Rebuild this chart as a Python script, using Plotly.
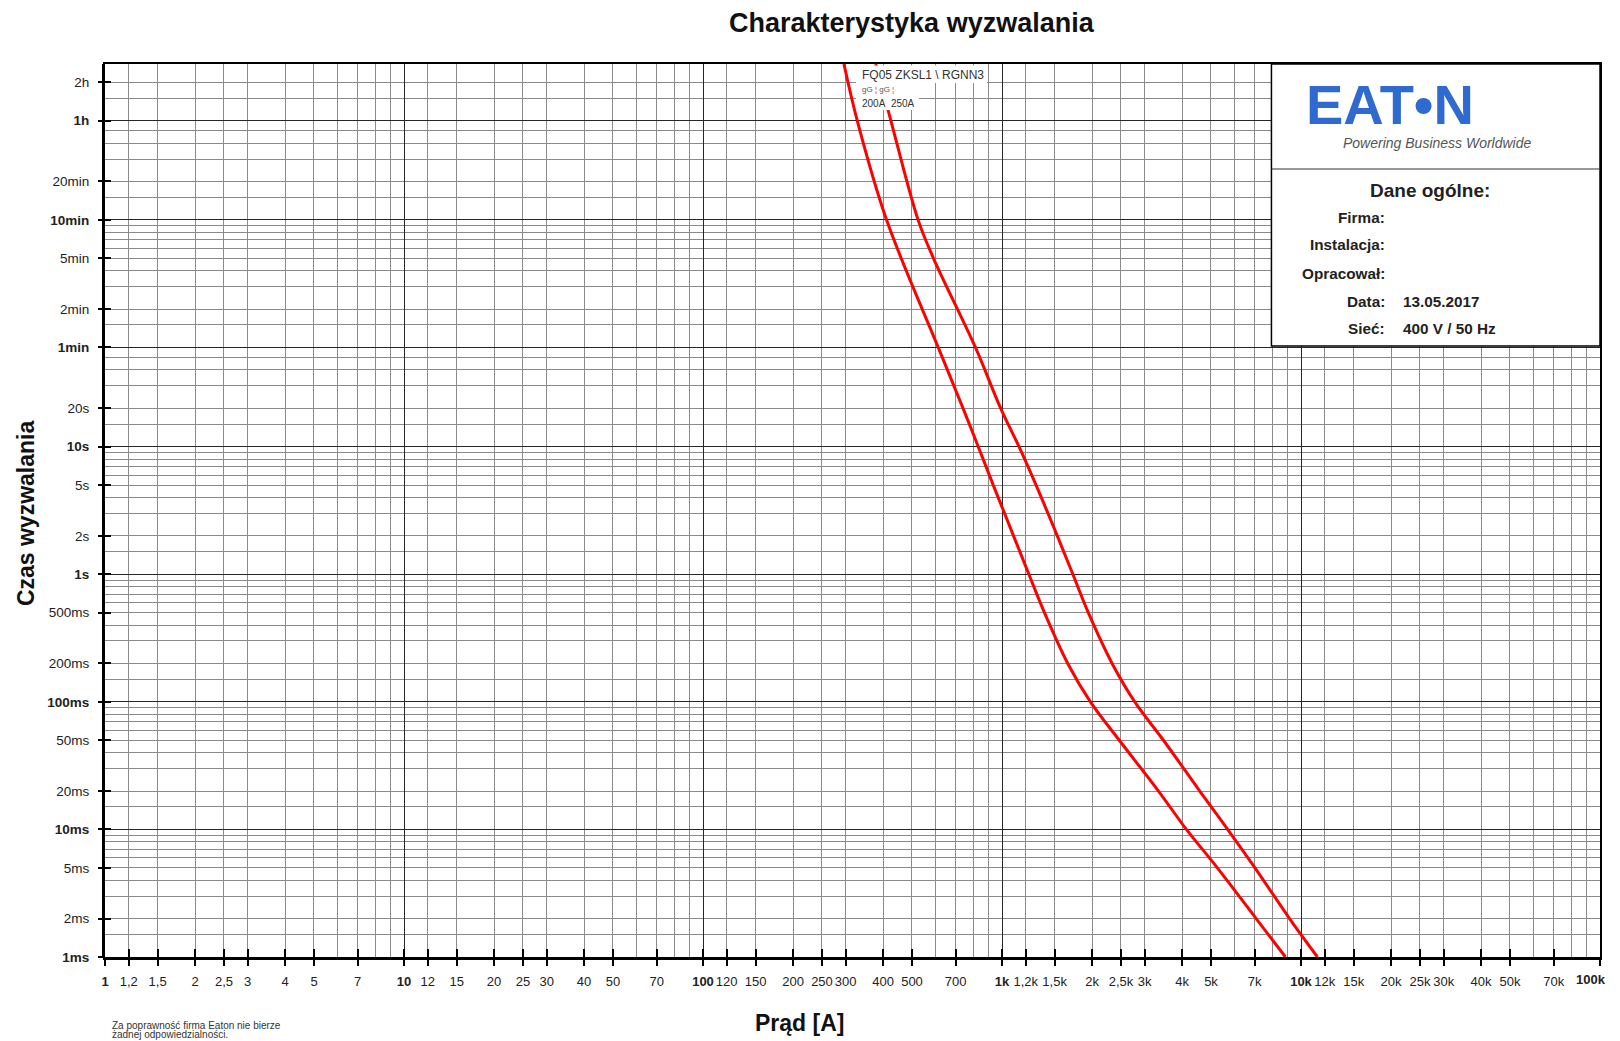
import plotly.graph_objects as go

# ---------------- data ----------------
I_200 = [296, 329, 411, 612, 741, 833, 935, 1093, 1230, 1387, 1659, 1976, 2468, 3337, 4137, 5252, 7080, 8872]
t_200 = [10000, 3500, 600, 60, 20, 10, 5, 2, 1, 0.5, 0.2, 0.1, 0.05, 0.02, 0.01, 0.005, 0.002, 0.001]

I_250 = [378, 420, 524, 590, 815, 990, 1140, 1300, 1531, 1726, 1944, 2335, 2780, 3467, 4585, 5684, 7015, 9155, 11350]
t_250 = [10000, 4000, 600, 300, 60, 20, 10, 5, 2, 1, 0.5, 0.2, 0.1, 0.05, 0.02, 0.01, 0.005, 0.002, 0.001]

# x axis (current, A)
X_TICKS = [1, 1.2, 1.5, 2, 2.5, 3, 4, 5, 7,
           10, 12, 15, 20, 25, 30, 40, 50, 70,
           100, 120, 150, 200, 250, 300, 400, 500, 700,
           1000, 1200, 1500, 2000, 2500, 3000, 4000, 5000, 7000,
           10000, 12000, 15000, 20000, 25000, 30000, 40000, 50000, 70000, 100000]
X_LABELS = ["<b>1</b>", "1,2", "1,5", "2", "2,5", "3", "4", "5", "7",
            "<b>10</b>", "12", "15", "20", "25", "30", "40", "50", "70",
            "<b>100</b>", "120", "150", "200", "250", "300", "400", "500", "700",
            "<b>1k</b>", "1,2k", "1,5k", "2k", "2,5k", "3k", "4k", "5k", "7k",
            "<b>10k</b>", "12k", "15k", "20k", "25k", "30k", "40k", "50k", "70k", "<b>100k</b>"]
X_LAST_LABEL = X_LABELS[-1]          # drawn right-aligned at the page edge so it is not clipped
X_AXIS_LABELS = X_LABELS[:-1] + [""]
X_DECADES = [1, 10, 100, 1000, 10000, 100000]
X_MANTISSA = [1.2, 1.5, 2, 2.5, 3, 4, 5, 6, 7, 8, 9]
X_MINOR = [m * d for d in [1, 10, 100, 1000, 10000] for m in X_MANTISSA]

# y axis (time, s)
Y_TICKS = [7200, 3600, 1200, 600, 300, 120, 60, 20, 10, 5, 2, 1,
           0.5, 0.2, 0.1, 0.05, 0.02, 0.01, 0.005, 0.002, 0.001]
Y_LABELS = ["2h", "<b>1h</b>", "20min", "<b>10min</b>", "5min", "2min", "<b>1min</b>",
            "20s", "<b>10s</b>", "5s", "2s", "<b>1s</b>",
            "500ms", "200ms", "<b>100ms</b>", "50ms", "20ms", "<b>10ms</b>", "5ms", "2ms", "<b>1ms</b>"]
Y_MAJOR = [0.001, 0.01, 0.1, 1, 10, 60, 600, 3600]
Y_MANTISSA = [1.5, 2, 3, 4, 5, 6, 7, 8, 9]
Y_MINOR = ([m * d for d in [0.001, 0.01, 0.1, 1] for m in Y_MANTISSA]
           + [15, 20, 30, 40, 50]
           + [90, 120, 180, 240, 300, 360, 420, 480, 540]
           + [900, 1200, 1800, 2400, 3000]
           + [5400, 7200])

# ---------------- layout geometry ----------------
OFF = 8                      # page body margin
W, H = 1604, 1033
ML, MT = 97, 56
MR = W - (1602 - OFF)
MB = H - 949
PW, PH = W - ML - MR, H - MT - MB
FONT = "Liberation Sans, Arial, sans-serif"


def PX(page_x):
    return (page_x - OFF - ML) / PW


def PY(page_y):
    return (MT + PH - (page_y - OFF)) / PH


fig = go.Figure()
CURVE = dict(color="#ff0000", width=3, shape="spline", smoothing=1.0)
fig.add_trace(go.Scatter(x=I_200, y=t_200, mode="lines", line=CURVE, showlegend=False, hoverinfo="skip"))
fig.add_trace(go.Scatter(x=I_250, y=t_250, mode="lines", line=CURVE, showlegend=False, hoverinfo="skip"))
# invisible anchors so that the overlay axes (labels / tick marks) get drawn
for xa, ya in [("x2", "y"), ("x3", "y"), ("x", "y2"), ("x", "y3")]:
    fig.add_trace(go.Scatter(x=I_200[:1], y=t_200[:1], xaxis=xa, yaxis=ya, mode="markers",
                             marker=dict(opacity=0, size=1), showlegend=False, hoverinfo="skip"))

XR = [0, 5]
YR = [-3, 4]
GRID_MINOR = "#8a8a8a"
GRID_MAJOR = "#262626"

fig.update_layout(
    width=W, height=H, autosize=False,
    margin=dict(l=ML, r=MR, t=MT, b=MB, pad=0),
    paper_bgcolor="white", plot_bgcolor="white",
    font=dict(family=FONT, color="#222"),
    showlegend=False,
    xaxis=dict(type="log", range=XR, autorange=False, tickmode="array", tickvals=X_DECADES,
               showticklabels=False, ticks="", showgrid=True, gridcolor=GRID_MAJOR, gridwidth=1,
               minor=dict(tickmode="array", tickvals=X_MINOR, showgrid=True, gridcolor=GRID_MINOR,
                          gridwidth=1, ticks=""),
               showline=True, mirror=True, linecolor="black", linewidth=2, zeroline=False),
    xaxis2=dict(type="log", range=XR, autorange=False, overlaying="x", anchor="y", side="bottom",
                tickmode="array", tickvals=X_TICKS, ticktext=X_AXIS_LABELS, ticks="outside", ticklen=8,
                tickwidth=2, tickcolor="black", showgrid=False, showline=False, zeroline=False,
                tickangle=0, tickfont=dict(family=FONT, size=13, color="#222"), ticklabelstandoff=4),
    xaxis3=dict(type="log", range=XR, autorange=False, overlaying="x", anchor="y", side="bottom",
                tickmode="array", tickvals=X_TICKS, ticks="inside", ticklen=8, tickwidth=2,
                tickcolor="black", showticklabels=False, showgrid=False, showline=True,
                linewidth=3, linecolor="black", zeroline=False),
    yaxis=dict(type="log", range=YR, autorange=False, tickmode="array", tickvals=Y_MAJOR,
               showticklabels=False, ticks="", showgrid=True, gridcolor=GRID_MAJOR, gridwidth=1,
               minor=dict(tickmode="array", tickvals=Y_MINOR, showgrid=True, gridcolor=GRID_MINOR,
                          gridwidth=1, ticks=""),
               showline=True, mirror=True, linecolor="black", linewidth=2, zeroline=False),
    yaxis2=dict(type="log", range=YR, autorange=False, overlaying="y", anchor="x", side="left",
                tickmode="array", tickvals=Y_TICKS, ticktext=Y_LABELS, ticks="outside", ticklen=6,
                tickwidth=2, tickcolor="black", showgrid=False, showline=False, zeroline=False,
                tickfont=dict(family=FONT, size=13.5, color="#222"), ticklabelstandoff=6),
    yaxis3=dict(type="log", range=YR, autorange=False, overlaying="y", anchor="x", side="left",
                tickmode="array", tickvals=Y_TICKS, ticks="inside", ticklen=6, tickwidth=2,
                tickcolor="black", showticklabels=False, showgrid=False, showline=True,
                linewidth=3, linecolor="black", zeroline=False),
)

shapes = []
# info box (top right)
shapes.append(dict(type="rect", xref="paper", yref="paper", x0=PX(1273), x1=1.0, y0=PY(346), y1=1.0,
                   fillcolor="white", line=dict(color="black", width=1.5), layer="above"))
shapes.append(dict(type="line", xref="paper", yref="paper", x0=PX(1273), x1=1.0, y0=PY(169), y1=PY(169),
                   line=dict(color="#333", width=1.2), layer="above"))
# white label background near the curves
shapes.append(dict(type="rect", xref="paper", yref="paper", x0=PX(857), x1=PX(988), y0=PY(83), y1=PY(65.5),
                   fillcolor="white", line=dict(width=0), layer="above"))
shapes.append(dict(type="rect", xref="paper", yref="paper", x0=PX(857), x1=PX(920), y0=PY(110), y1=PY(83),
                   fillcolor="white", line=dict(width=0), layer="above"))
fig.update_layout(shapes=shapes)


def ann(text, x, y, size, xanchor="center", yanchor="middle", color="#222", **kw):
    fig.add_annotation(text=text, x=PX(x), y=PY(y), xref="paper", yref="paper", showarrow=False,
                       xanchor=xanchor, yanchor=yanchor,
                       font=dict(family=FONT, size=size, color=color), **kw)


# last x tick label, right-aligned at the page edge
ann(X_LAST_LABEL, 1610, 980, 13, xanchor="right", color="#222")

# titles
ann("<b>Charakterystyka wyzwalania</b>", 913, 23, 27, color="#111")
ann("<b>Czas wyzwalania</b>", 26, 513, 23, color="#111", textangle=-90)
ann("<b>Prąd [A]</b>", 800, 1023, 23, color="#111")
ann("Za poprawność firma Eaton nie bierze", 110, 1025, 10, xanchor="left", color="#333")
ann("żadnej odpowiedzialności.", 110, 1034, 10, xanchor="left", color="#333")

# curve labels
ann("FQ05 ZKSL1 \\ RGNN3", 861, 75, 12, xanchor="left", color="#333")
ann("gG <span style='color:#ff0000'>¦</span> gG ¦", 861, 89.5, 8, xanchor="left", color="#555")
ann("200A\u00a0\u00a0250A", 861, 103, 10, xanchor="left", color="#333")

# logo
ann("<b>EAT•N</b>", 1392, 104, 56, color="#2f6ad0")
ann("<i>Powering Business Worldwide</i>", 1439, 143, 14, color="#555")

# general data
ann("<b>Dane ogólne:</b>", 1432, 190, 19, color="#222")
INFO_KEYS = ["Firma:", "Instalacja:", "Opracował:", "Data:", "Sieć:"]
INFO_VALS = ["", "", "", "13.05.2017", "400 V / 50 Hz"]
INFO_Y = [217.7, 245, 273, 301, 328]
for k, v, yy in zip(INFO_KEYS, INFO_VALS, INFO_Y):
    ann("<b>%s</b>" % k, 1389, yy, 15.3, xanchor="right", color="#222")
    if v:
        ann("<b>%s</b>" % v, 1403, yy, 15.3, xanchor="left", color="#222")

fig.write_html("out.html", config={"displayModeBar": False})
